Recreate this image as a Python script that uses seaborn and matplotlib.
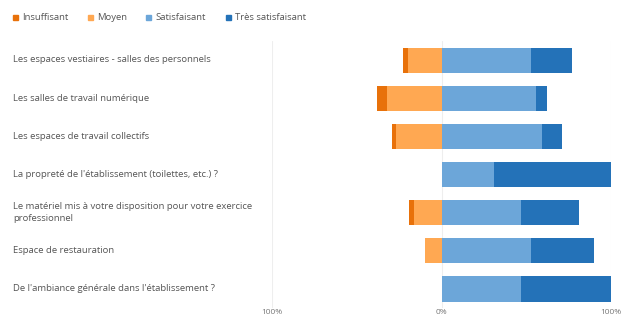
import matplotlib
matplotlib.use("Agg")
import matplotlib.pyplot as plt
import matplotlib.transforms as mtransforms
from matplotlib.lines import Line2D
import seaborn as sns
import pandas as pd
import numpy as np

categories = [
    "Les espaces vestiaires - salles des personnels",
    "Les salles de travail numérique",
    "Les espaces de travail collectifs",
    "La propreté de l'établissement (toilettes, etc.) ?",
    "Le matériel mis à votre disposition pour votre exercice\nprofessionnel",
    "Espace de restauration",
    "De l'ambiance générale dans l'établissement ?",
]
insuffisant = [3, 6, 2, 0, 3, 0, 0]
moyen = [20, 32, 27, 0, 16, 10, 0]
satisfaisant = [53, 56, 59, 31, 47, 53, 47]
tres_satisfaisant = [24, 6, 12, 69, 34, 37, 53]
series_names = ["Insuffisant", "Moyen", "Satisfaisant", "Très satisfaisant"]
colors = ["#E8710A", "#FFA852", "#6CA6D9", "#2472B8"]
tick_values = [-100, 0, 100]
tick_labels = ["100%", "0%", "100%"]

sns.set_theme(style="white")
plt.rcParams['font.family'] = ['Open Sans', 'DejaVu Sans']

df = pd.DataFrame({
    "cat": categories,
    "insuff": insuffisant,
    "moyen": moyen,
    "satisf": satisfaisant,
    "tres": tres_satisfaisant,
})
df["neg_outer"] = -(df["insuff"] + df["moyen"])
df["neg_inner"] = -df["moyen"]
df["pos_outer"] = df["satisf"] + df["tres"]
df["pos_inner"] = df["satisf"]

W, H = 623, 315
fig = plt.figure(figsize=(W / 100, H / 100), dpi=100)
spacing = (289 - 60) / 6
top = 60 - spacing / 2
bot = 289 + spacing / 2
ax = fig.add_axes([272 / W, 1 - bot / H, (611 - 272) / W, (bot - top) / H])

bw = 25 / spacing
for col, c in [("neg_outer", colors[0]), ("neg_inner", colors[1]),
               ("pos_outer", colors[3]), ("pos_inner", colors[2])]:
    sns.barplot(data=df, y="cat", x=col, color=c, orient="h", width=bw,
                ax=ax, saturation=1, linewidth=0, errorbar=None)

ax.set_xlim(-100, 100)
ax.set_ylim(len(categories) - 0.5, -0.5)
ax.set_xticks(tick_values)
ax.set_xticklabels(tick_labels, fontsize=6, color="#777777")
ax.tick_params(axis="x", length=0, pad=1)
ax.set_yticks([])
ax.set_xlabel("")
ax.set_ylabel("")
for s in ax.spines.values():
    s.set_visible(False)
for v in tick_values:
    ax.axvline(v, color="#eeeeee", lw=0.8, zorder=0)

trans = mtransforms.blended_transform_factory(fig.transFigure, ax.transData)
for i, lab in enumerate(categories):
    ax.text(13 / W, i, lab, transform=trans, ha="left", va="center",
            fontsize=6.8, color="#555555", linespacing=1.45, clip_on=False)

legend_x = [15, 90, 148, 228]
ly = 1 - 17 / H
for x, name, c in zip(legend_x, series_names, colors):
    fig.add_artist(Line2D([x / W], [ly], transform=fig.transFigure,
                          marker="s", linestyle="", markersize=3.6,
                          markerfacecolor=c, markeredgecolor=c))
    fig.text((x + 7) / W, ly, name, ha="left", va="center",
             fontsize=6.8, color="#555555")

fig.savefig("out.png", dpi=100)
